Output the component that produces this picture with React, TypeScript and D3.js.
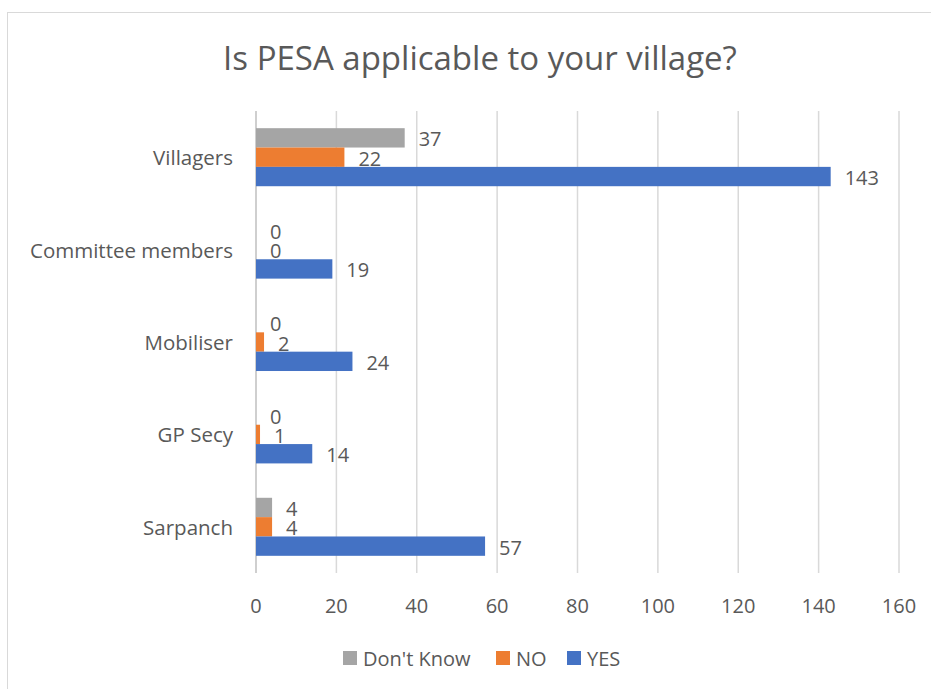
import React from "react";
import * as d3 from "d3";

const categories = ["Villagers", "Committee members", "Mobiliser", "GP Secy", "Sarpanch"];
const seriesNames = ["Don't Know", "NO", "YES"];
const dontKnow = [37, 0, 0, 0, 4];
const no = [22, 0, 2, 1, 4];
const yes = [143, 19, 24, 14, 57];
const xTicks = [0, 20, 40, 60, 80, 100, 120, 140, 160];

const colors = ["#A5A5A5", "#ED7D31", "#4472C4"];
const textColor = "#595959";
const font = "'Open Sans', 'Segoe UI', sans-serif";

const App = () => {
  const width = 931;
  const height = 689;
  const series = [dontKnow, no, yes];

  const xScale = d3.scaleLinear().domain([0, 160]).range([256, 899]);
  const yScale = d3
    .scaleBand<string>()
    .domain(categories)
    .range([111, 573])
    .paddingInner(0.372)
    .paddingOuter(0.186);
  const subScale = d3
    .scaleBand<string>()
    .domain(seriesNames)
    .range([0, yScale.bandwidth()]);

  const legendItems = [
    { name: seriesNames[0], x: 343 },
    { name: seriesNames[1], x: 496 },
    { name: seriesNames[2], x: 567 },
  ];

  return (
    <svg
      width={width}
      height={height}
      style={{ position: "absolute", left: 0, top: 0, fontFamily: font }}
    >
      <rect x={0} y={0} width={width} height={height} fill="#fff" />
      <rect x={7.5} y={12.5} width={width} height={height} fill="none" stroke="#d9d9d9" />

      <text x={480} y={70} textAnchor="middle" fontSize={33} fill={textColor}>
        Is PESA applicable to your village?
      </text>

      <g className="grid">
        {xTicks.map((t) => (
          <line
            key={t}
            x1={xScale(t)}
            x2={xScale(t)}
            y1={111}
            y2={573}
            stroke={t === 0 ? "#bfbfbf" : "#d9d9d9"}
            strokeWidth={1.5}
          />
        ))}
      </g>

      {xTicks.map((t) => (
        <text
          key={t}
          x={xScale(t)}
          y={605}
          textAnchor="middle"
          dominantBaseline="central"
          fontSize={20}
          fill={textColor}
        >
          {t}
        </text>
      ))}

      {categories.map((c) => (
        <text
          key={c}
          x={233}
          y={(yScale(c) ?? 0) + yScale.bandwidth() / 2}
          textAnchor="end"
          dominantBaseline="central"
          fontSize={20.5}
          fill={textColor}
        >
          {c}
        </text>
      ))}

      {series.map((vals, si) => (
        <g key={seriesNames[si]}>
          {vals.map((v, ci) => {
            const y = (yScale(categories[ci]) ?? 0) + (subScale(seriesNames[si]) ?? 0);
            return (
              <g key={ci}>
                <rect
                  x={xScale(0)}
                  y={y}
                  width={xScale(v) - xScale(0)}
                  height={subScale.bandwidth()}
                  fill={colors[si]}
                />
                <text
                  x={xScale(v) + 14}
                  y={y + subScale.bandwidth() / 2 + 1}
                  dominantBaseline="central"
                  fontSize={20}
                  fill={textColor}
                >
                  {v}
                </text>
              </g>
            );
          })}
        </g>
      ))}

      {legendItems.map((d, i) => (
        <g key={d.name}>
          <rect x={d.x} y={651} width={14} height={14} fill={colors[i]} />
          <text
            x={d.x + 20}
            y={658}
            dominantBaseline="central"
            fontSize={20}
            fill={textColor}
          >
            {d.name}
          </text>
        </g>
      ))}
    </svg>
  );
};

export default App;
